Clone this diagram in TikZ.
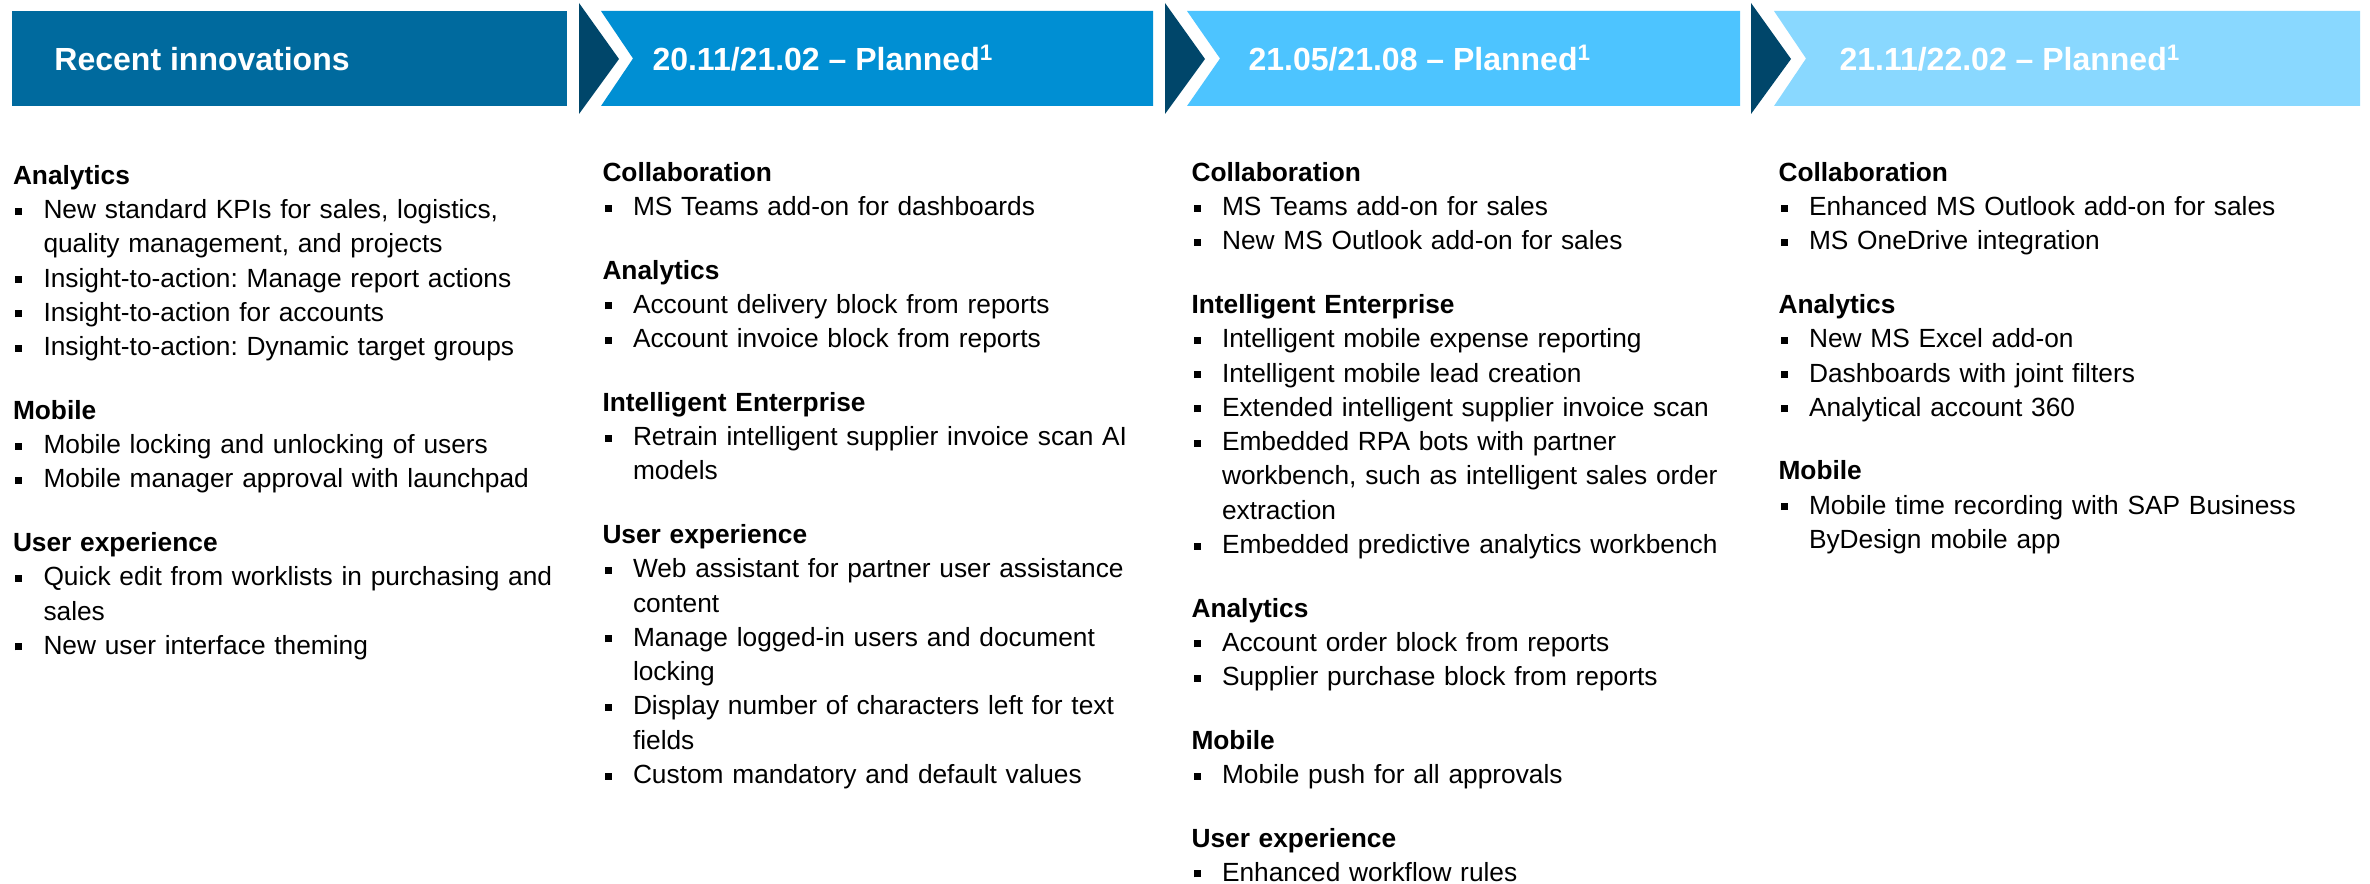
\documentclass[tikz,border=0pt]{standalone}
\usepackage{fontspec}
\setmainfont{Liberation Sans}
\usepackage{tikz}
\tikzset{>=latex}
\usetikzlibrary{positioning}

\definecolor{hdrA}{HTML}{006A9E}
\definecolor{hdrB}{HTML}{008FD3}
\definecolor{hdrC}{HTML}{4DC4FF}
\definecolor{hdrD}{HTML}{89D8FF}
\definecolor{chev}{HTML}{00466A}

\frenchspacing
\newcommand{\sect}[1]{\par\noindent\textbf{#1}\par}
\newcommand{\itm}[1]{\par\hangindent=12.2pt\hangafter=1\noindent\hbox to 12.2pt{\hspace{0.9pt}\rule[1.6pt]{2.8pt}{2.8pt}\hfil}#1\par}
\newcommand{\gap}{\par\vspace{11.7pt}}

\tikzset{
  hdrtext/.style={anchor=base west, text=white, inner sep=0pt, font=\fontsize{12.8}{14}\selectfont\bfseries},
  coltext/.style={anchor=base west, inner sep=0pt, text width=235pt, align=left, font=\fontsize{10.52}{13.72}\selectfont}
}

\begin{document}
\begin{tikzpicture}[x=0.4pt,y=-0.4pt]
\useasboundingbox (0,0) rectangle (2370,884);
% header bar
\fill[hdrA] (12,11) rectangle (567,106);
\fill[chev] (579,3) -- (619,59) -- (579,114) -- cycle;
\fill[hdrB] (601,11) -- (1153,11) -- (1153,106) -- (601,106) -- (633,58.5) -- cycle;
\fill[chev] (1165,3) -- (1205,59) -- (1165,114) -- cycle;
\fill[hdrC] (1187,11) -- (1740,11) -- (1740,106) -- (1187,106) -- (1220,58.5) -- cycle;
\fill[chev] (1751,3) -- (1791,59) -- (1751,114) -- cycle;
\fill[hdrD] (1774,11) -- (2360,11) -- (2360,106) -- (1774,106) -- (1806,58.5) -- cycle;

\node[hdrtext] (hrecent) at (54,71) {Recent innovations};
\node[hdrtext] (hplanA) at (652,71) {20.11/21.02 -- Planned\textsuperscript{1}};
\node[hdrtext] (hplanB) at (1248,71) {21.05/21.08 -- Planned\textsuperscript{1}};
\node[hdrtext] (hplanC) at (1839,71) {21.11/22.02 -- Planned\textsuperscript{1}};

% columns
\node[coltext] (crecent) at (12.5,150) {%
\sect{Analytics}
\itm{New standard KPIs for sales, logistics,\newline quality management, and projects}
\itm{Insight-to-action: Manage report actions}
\itm{Insight-to-action for accounts}
\itm{Insight-to-action: Dynamic target groups}
\gap
\sect{Mobile}
\itm{Mobile locking and unlocking of users}
\itm{Mobile manager approval with launchpad}
\gap
\sect{User experience}
\itm{Quick edit from worklists in purchasing and\newline sales}
\itm{New user interface theming}};

\node[coltext] (cplanA) at (602,147) {%
\sect{Collaboration}
\itm{MS Teams add-on for dashboards}
\gap
\sect{Analytics}
\itm{Account delivery block from reports}
\itm{Account invoice block from reports}
\gap
\sect{Intelligent Enterprise}
\itm{Retrain intelligent supplier invoice scan AI\newline models}
\gap
\sect{User experience}
\itm{Web assistant for partner user assistance\newline content}
\itm{Manage logged-in users and document\newline locking}
\itm{Display number of characters left for text\newline fields}
\itm{Custom mandatory and default values}};

\node[coltext] (cplanB) at (1191,147) {%
\sect{Collaboration}
\itm{MS Teams add-on for sales}
\itm{New MS Outlook add-on for sales}
\gap
\sect{Intelligent Enterprise}
\itm{Intelligent mobile expense reporting}
\itm{Intelligent mobile lead creation}
\itm{Extended intelligent supplier invoice scan}
\itm{Embedded RPA bots with partner\newline workbench, such as intelligent sales order\newline extraction}
\itm{Embedded predictive analytics workbench}
\gap
\sect{Analytics}
\itm{Account order block from reports}
\itm{Supplier purchase block from reports}
\gap
\sect{Mobile}
\itm{Mobile push for all approvals}
\gap
\sect{User experience}
\itm{Enhanced workflow rules}};

\node[coltext] (cplanC) at (1778,147) {%
\sect{Collaboration}
\itm{Enhanced MS Outlook add-on for sales}
\itm{MS OneDrive integration}
\gap
\sect{Analytics}
\itm{New MS Excel add-on}
\itm{Dashboards with joint filters}
\itm{Analytical account 360}
\gap
\sect{Mobile}
\itm{Mobile time recording with SAP Business\newline ByDesign mobile app}};
\end{tikzpicture}
\end{document}
